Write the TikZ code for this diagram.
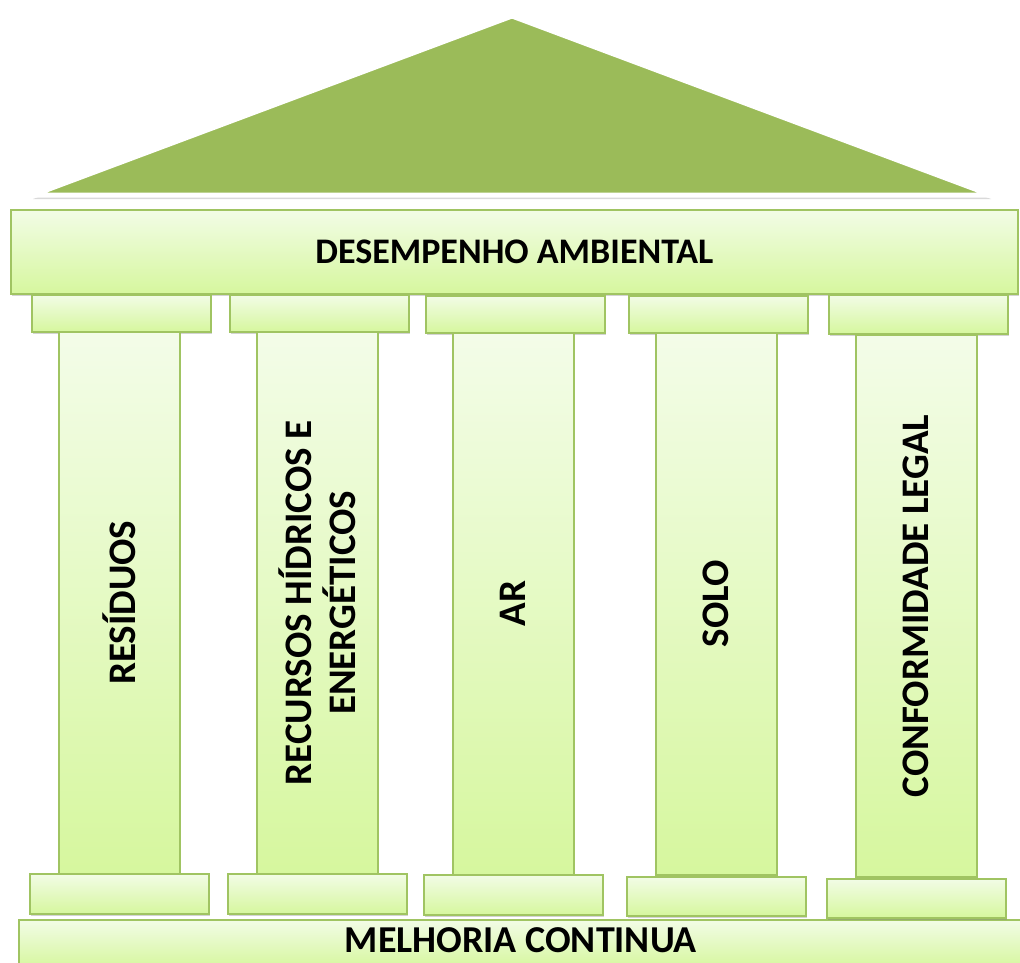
\documentclass[tikz,border=0pt]{standalone}
\usepackage{fontspec}
\setmainfont{Carlito}
\usetikzlibrary{shadows}
\definecolor{roofgreen}{RGB}{155,187,89}
\definecolor{rimgreen}{RGB}{160,196,98}
\definecolor{paletop}{RGB}{242,252,230}
\definecolor{palebot}{RGB}{214,247,158}
\begin{document}
\begin{tikzpicture}[x=1pt,y=-1pt]
    \tikzstyle{slab} = [draw=rimgreen, line width=1.6pt, top color=paletop, bottom color=palebot, anchor=north west, inner sep=0pt, drop shadow={opacity=0.35, shadow xshift=1.5pt, shadow yshift=-2pt}, font=\fontsize{36}{44}\selectfont\bfseries];
    \tikzstyle{shaft} = [slab, top color=paletop!90!white, bottom color=palebot, minimum width=121pt, minimum height=542pt];
    \tikzstyle{capbox} = [slab, minimum width=179pt, minimum height=37pt];
    \tikzstyle{label} = [rotate=90, align=center, font=\fontsize{39}{44}\selectfont\bfseries];
    \useasboundingbox (0,0) rectangle (1020,963);
    % roof
    \filldraw[fill=roofgreen, draw=white, line width=5pt, line join=round, drop shadow={opacity=0.3, shadow xshift=0pt, shadow yshift=-4pt}]
        (33,195) -- (512,16) -- (991,195) -- cycle;
    % beams
    \node[slab, minimum width=1007pt, minimum height=84pt] (top) at (10,209) {DESEMPENHO AMBIENTAL};
    \node[slab, minimum width=1004pt, minimum height=48pt, text depth=8pt, font=\fontsize{38}{44}\selectfont\bfseries] (bottom) at (18,919) {MELHORIA CONTINUA};
    % capitals
    \node[capbox] (cap1) at (31,294) {};
    \node[capbox] (cap2) at (229,294) {};
    \node[capbox] (cap3) at (425,295) {};
    \node[capbox] (cap4) at (628,295) {};
    \node[capbox, minimum height=39pt] (cap5) at (828,294) {};
    % shafts
    \node[shaft] (res) at (58,331) {};
    \node[shaft] (rec) at (256,331) {};
    \node[shaft] (ar) at (452,332) {};
    \node[shaft] (solo) at (655,332) {};
    \node[shaft] (conf) at (855,334) {};
    % bases
    \node[capbox, minimum height=40pt] (base1) at (29,873) {};
    \node[capbox, minimum height=40pt] (base2) at (227,873) {};
    \node[capbox, minimum height=40pt] (base3) at (423,874) {};
    \node[capbox, minimum height=39pt] (base4) at (626,876) {};
    \node[capbox, minimum height=39pt] (base5) at (826,878) {};
    % column texts
    \node[label] (tres) at (res.center) {RESÍDUOS};
    \node[label] (trec) at (rec.center) {RECURSOS HÍDRICOS E\\ENERGÉTICOS};
    \node[label] (tar) at (ar.center) {AR};
    \node[label] (tsolo) at (solo.center) {SOLO};
    \node[label] (tconf) at (conf.center) {CONFORMIDADE LEGAL};
\end{tikzpicture}
\end{document}
